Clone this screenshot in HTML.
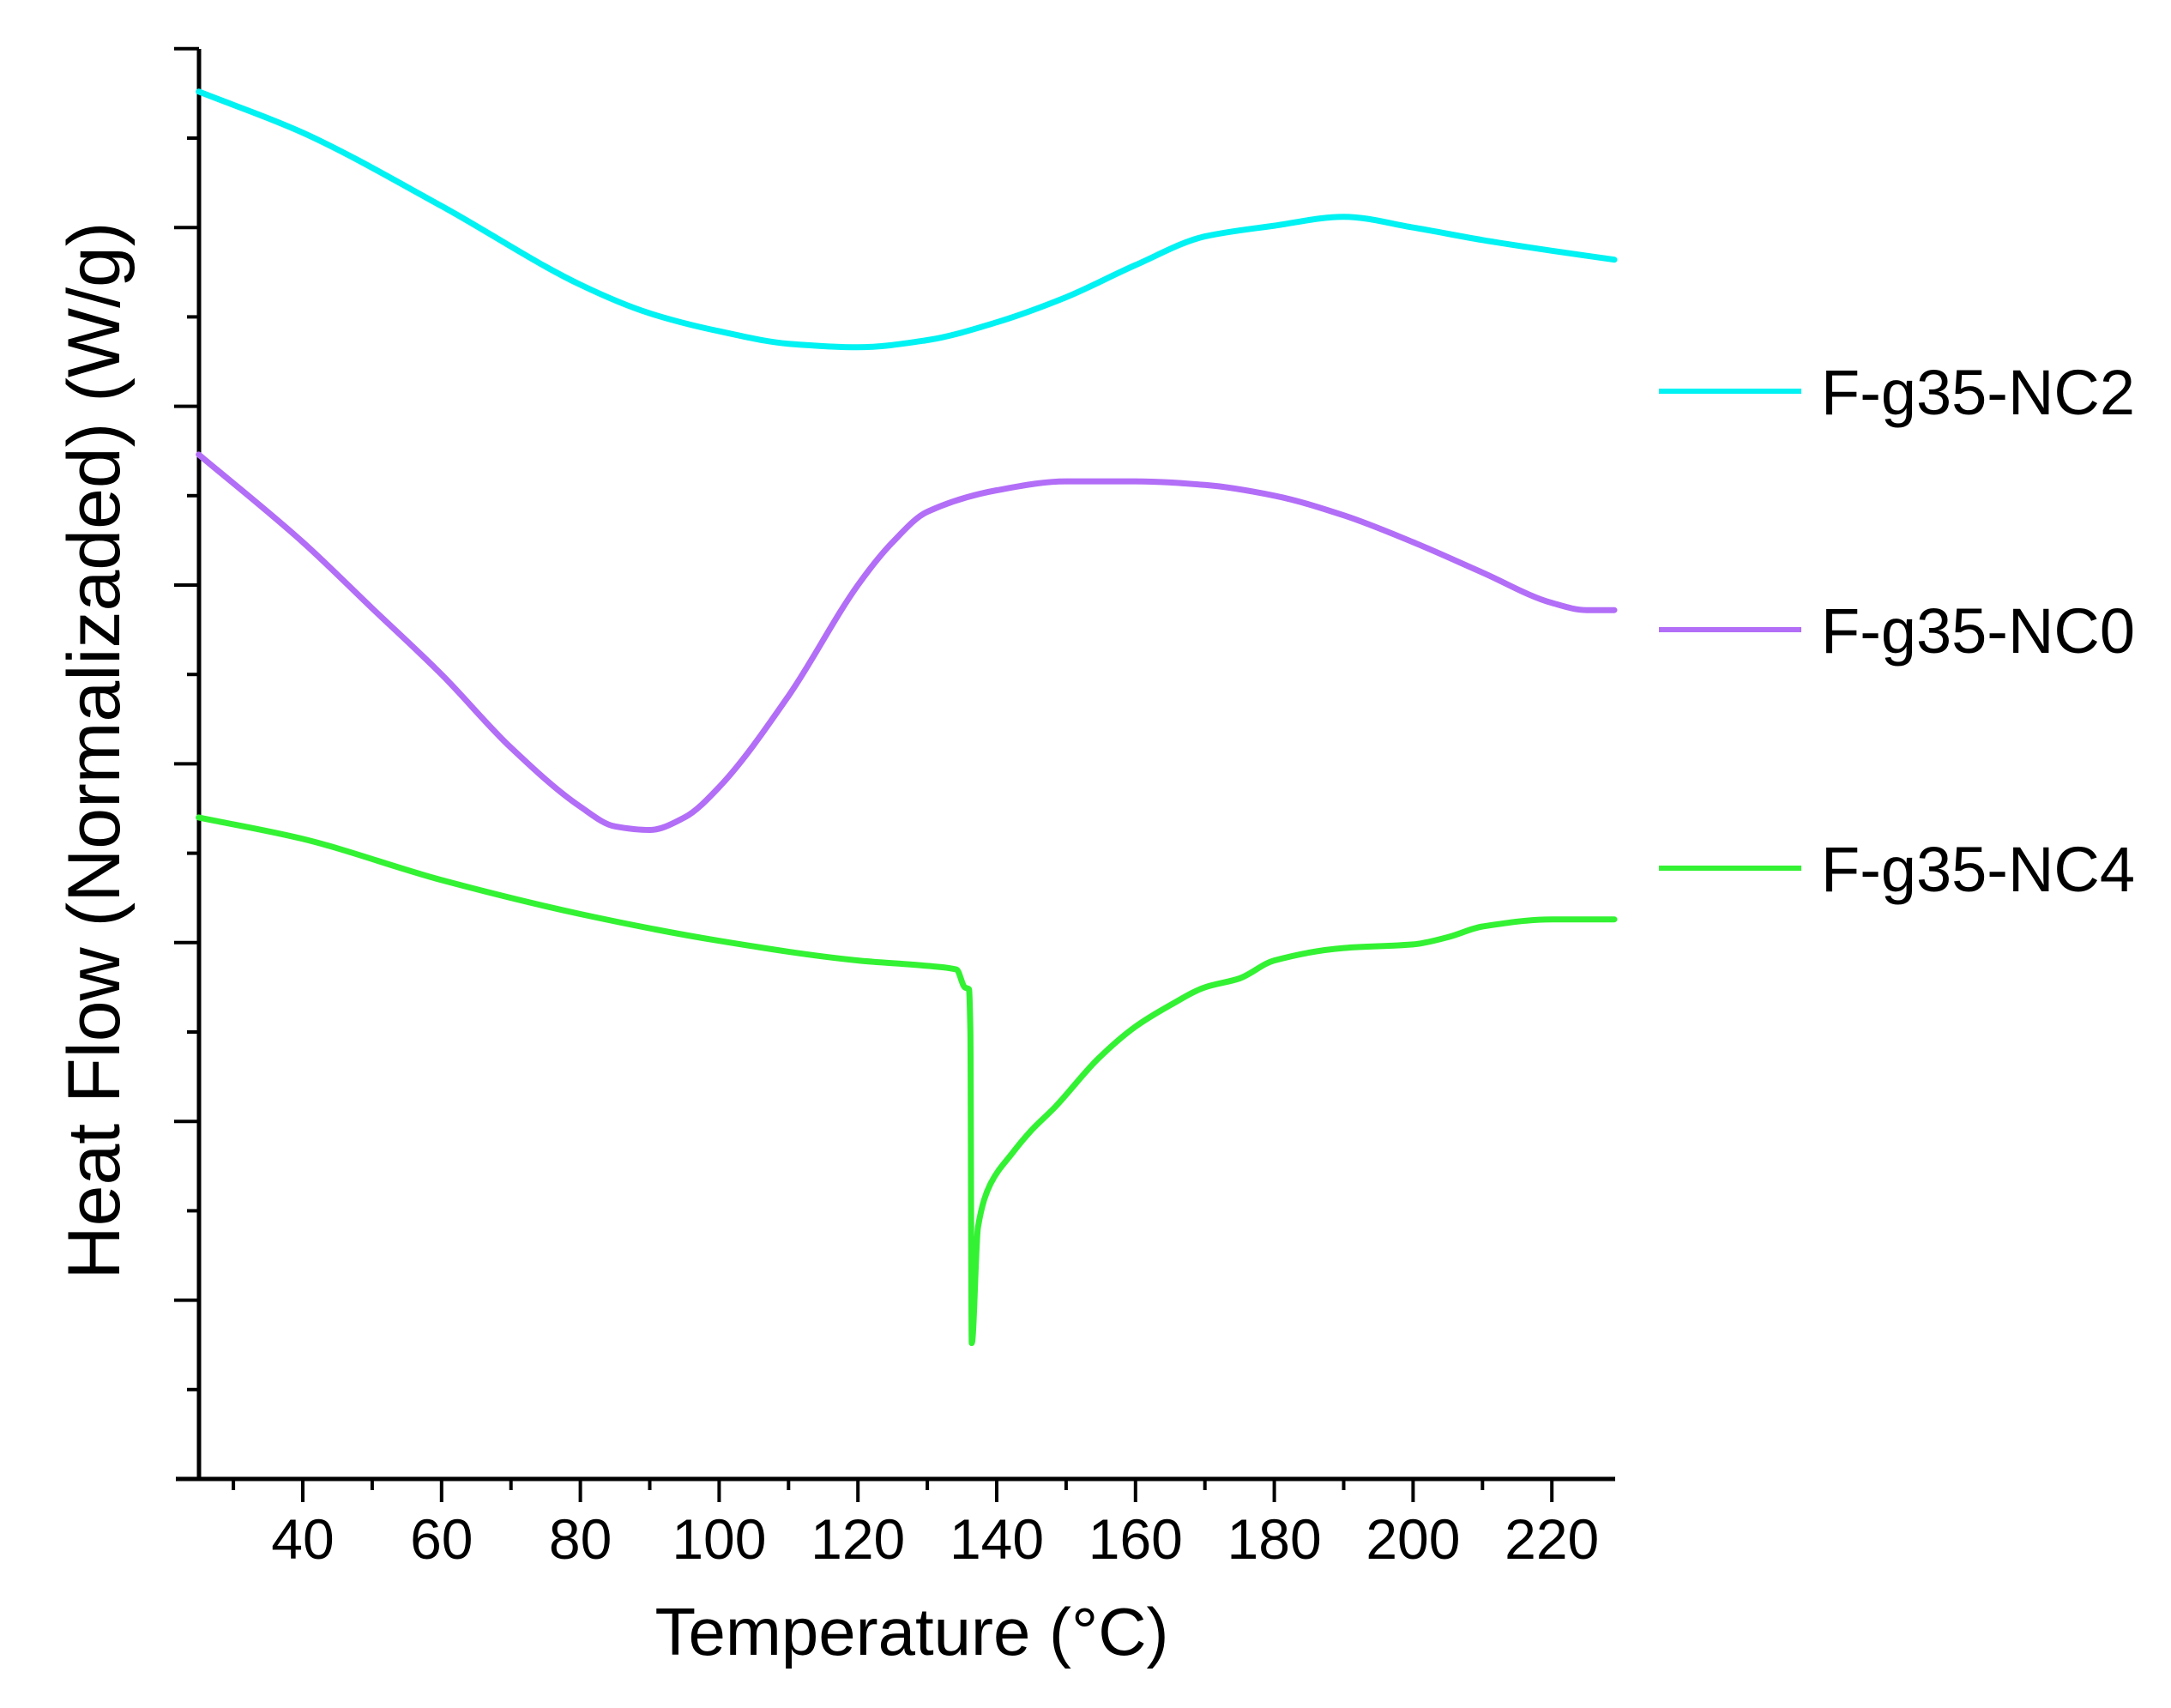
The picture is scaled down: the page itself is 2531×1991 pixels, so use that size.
<!DOCTYPE html>
<html><head><meta charset="utf-8"><style>
html,body{margin:0;padding:0;background:#fff}
svg text{font-family:"Liberation Sans",Arial,sans-serif;fill:#000}
</style></head><body>
<svg id="chart" width="2531" height="1986" viewBox="0 0 2531 1986" xmlns="http://www.w3.org/2000/svg">
<g id="axes"></g>
<g id="series"></g>
<g id="legend"></g>
<text x="1063" y="1929" font-size="78" text-anchor="middle">Temperature (°C)</text>
<text transform="translate(139,875) rotate(-90)" font-size="86" text-anchor="middle">Heat Flow (Normalizaded) (W/g)</text>
</svg>
<script>
const xTicks = [40,60,80,100,120,140,160,180,200,220];
const xTickLabels = ["40","60","80","100","120","140","160","180","200","220"];
const seriesNames = ["F-g35-NC2","F-g35-NC0","F-g35-NC4"];
const seriesColors = ["#00f2f2","#b26ef7","#33f233"];
const nc2T = [25,40,60,80,90,100,110,120,130,140,150,160,170,180,190,200,210,220,229];
const nc2V = [7.76,7.53,7.12,6.68,6.52,6.42,6.35,6.33,6.37,6.47,6.61,6.79,6.95,7.01,7.06,7.00,6.93,6.87,6.82];
const nc0T = [25,40,50,60,70,80,85,90,95,100,110,120,125,130,140,150,160,170,180,190,200,210,220,225,229];
const nc0V = [5.73,5.24,4.87,4.50,4.09,3.76,3.65,3.63,3.70,3.87,4.38,5.00,5.24,5.41,5.53,5.58,5.58,5.56,5.50,5.39,5.24,5.07,4.90,4.86,4.86];
const nc4T = [25,40,60,80,100,120,130,134.2,135.4,136.0,136.2,136.4,137.3,139.1,142.2,145,148.4,154.6,160,165,170,175,180,190,200,205,210,220,229];
const nc4V = [3.70,3.58,3.35,3.16,3.01,2.90,2.87,2.85,2.75,2.74,2.50,0.76,1.41,1.65,1.82,1.95,2.08,2.35,2.53,2.65,2.75,2.80,2.90,2.97,2.99,3.03,3.09,3.13,3.13];

const X0=232, X1=1883, Y0=1724;
const xs = t => 353 + (t-40)*8.09;
const ys = v => Y0 - v*208.4;
const NS="http://www.w3.org/2000/svg";
function mk(tag, attrs, parent){const e=document.createElementNS(NS,tag);for(const k in attrs)e.setAttribute(k,attrs[k]);parent.appendChild(e);return e;}
function monoPath(px,py){
  const n=px.length, d=[], m=[];
  for(let i=0;i<n-1;i++) d.push((py[i+1]-py[i])/(px[i+1]-px[i]));
  m[0]=d[0]; m[n-1]=d[n-2];
  for(let i=1;i<n-1;i++){ m[i]=(d[i-1]*d[i]<=0)?0:(2/(1/d[i-1]+1/d[i])); }
  let s='M'+px[0].toFixed(1)+','+py[0].toFixed(1);
  for(let i=0;i<n-1;i++){
    const h=(px[i+1]-px[i])/3;
    s+=' C'+(px[i]+h).toFixed(1)+','+(py[i]+m[i]*h).toFixed(1)+' '+(px[i+1]-h).toFixed(1)+','+(py[i+1]-m[i+1]*h).toFixed(1)+' '+px[i+1].toFixed(1)+','+py[i+1].toFixed(1);
  }
  return s;
}
const axes=document.getElementById('axes');
let e;
e=mk('line',{x1:205,y1:Y0,x2:X1,y2:Y0,stroke:'#000','stroke-width':5},axes);


e=mk('line',{x1:X0,y1:57,x2:X0,y2:Y0+2,stroke:'#000','stroke-width':5},axes);


for(let t=30;t<=220;t+=10){
  const major = xTicks.indexOf(t)>=0;
  e=mk('line',{x1:xs(t),y1:Y0,x2:xs(t),y2:Y0+(major?27:13),stroke:'#000','stroke-width':4},axes);
  
  
}
xTicks.forEach((t,i)=>{
  e=mk('text',{x:xs(t),y:1817,'font-size':66,'text-anchor':'middle'},axes);
  e.textContent=xTickLabels[i];
  
  
});
for(let k=0;k<16;k++){
  const v=8-k*0.5, major=(k%2===0);
  e=mk('line',{x1:X0,y1:ys(v),x2:X0-(major?29:14),y2:ys(v),stroke:'#000','stroke-width':4},axes);
  
  
}
const ser=document.getElementById('series');
[[nc2T,nc2V],[nc0T,nc0V],[nc4T,nc4V]].forEach((d,i)=>{
  const px=d[0].map(xs), py=d[1].map(ys);
  e=mk('path',{d:monoPath(px,py),fill:'none',stroke:seriesColors[i],'stroke-width':7,'stroke-linejoin':'round','stroke-linecap':'round'},ser);
  
  
});
const leg=document.getElementById('legend');
const legY=[456,734,1012];
seriesNames.forEach((n,i)=>{
  e=mk('line',{x1:1934,y1:legY[i],x2:2100,y2:legY[i],stroke:seriesColors[i],'stroke-width':6},leg);
  
  
  e=mk('text',{x:2123,y:legY[i]+27,'font-size':74},leg);
  e.textContent=n;
  
  
});
</script>
</body></html>
